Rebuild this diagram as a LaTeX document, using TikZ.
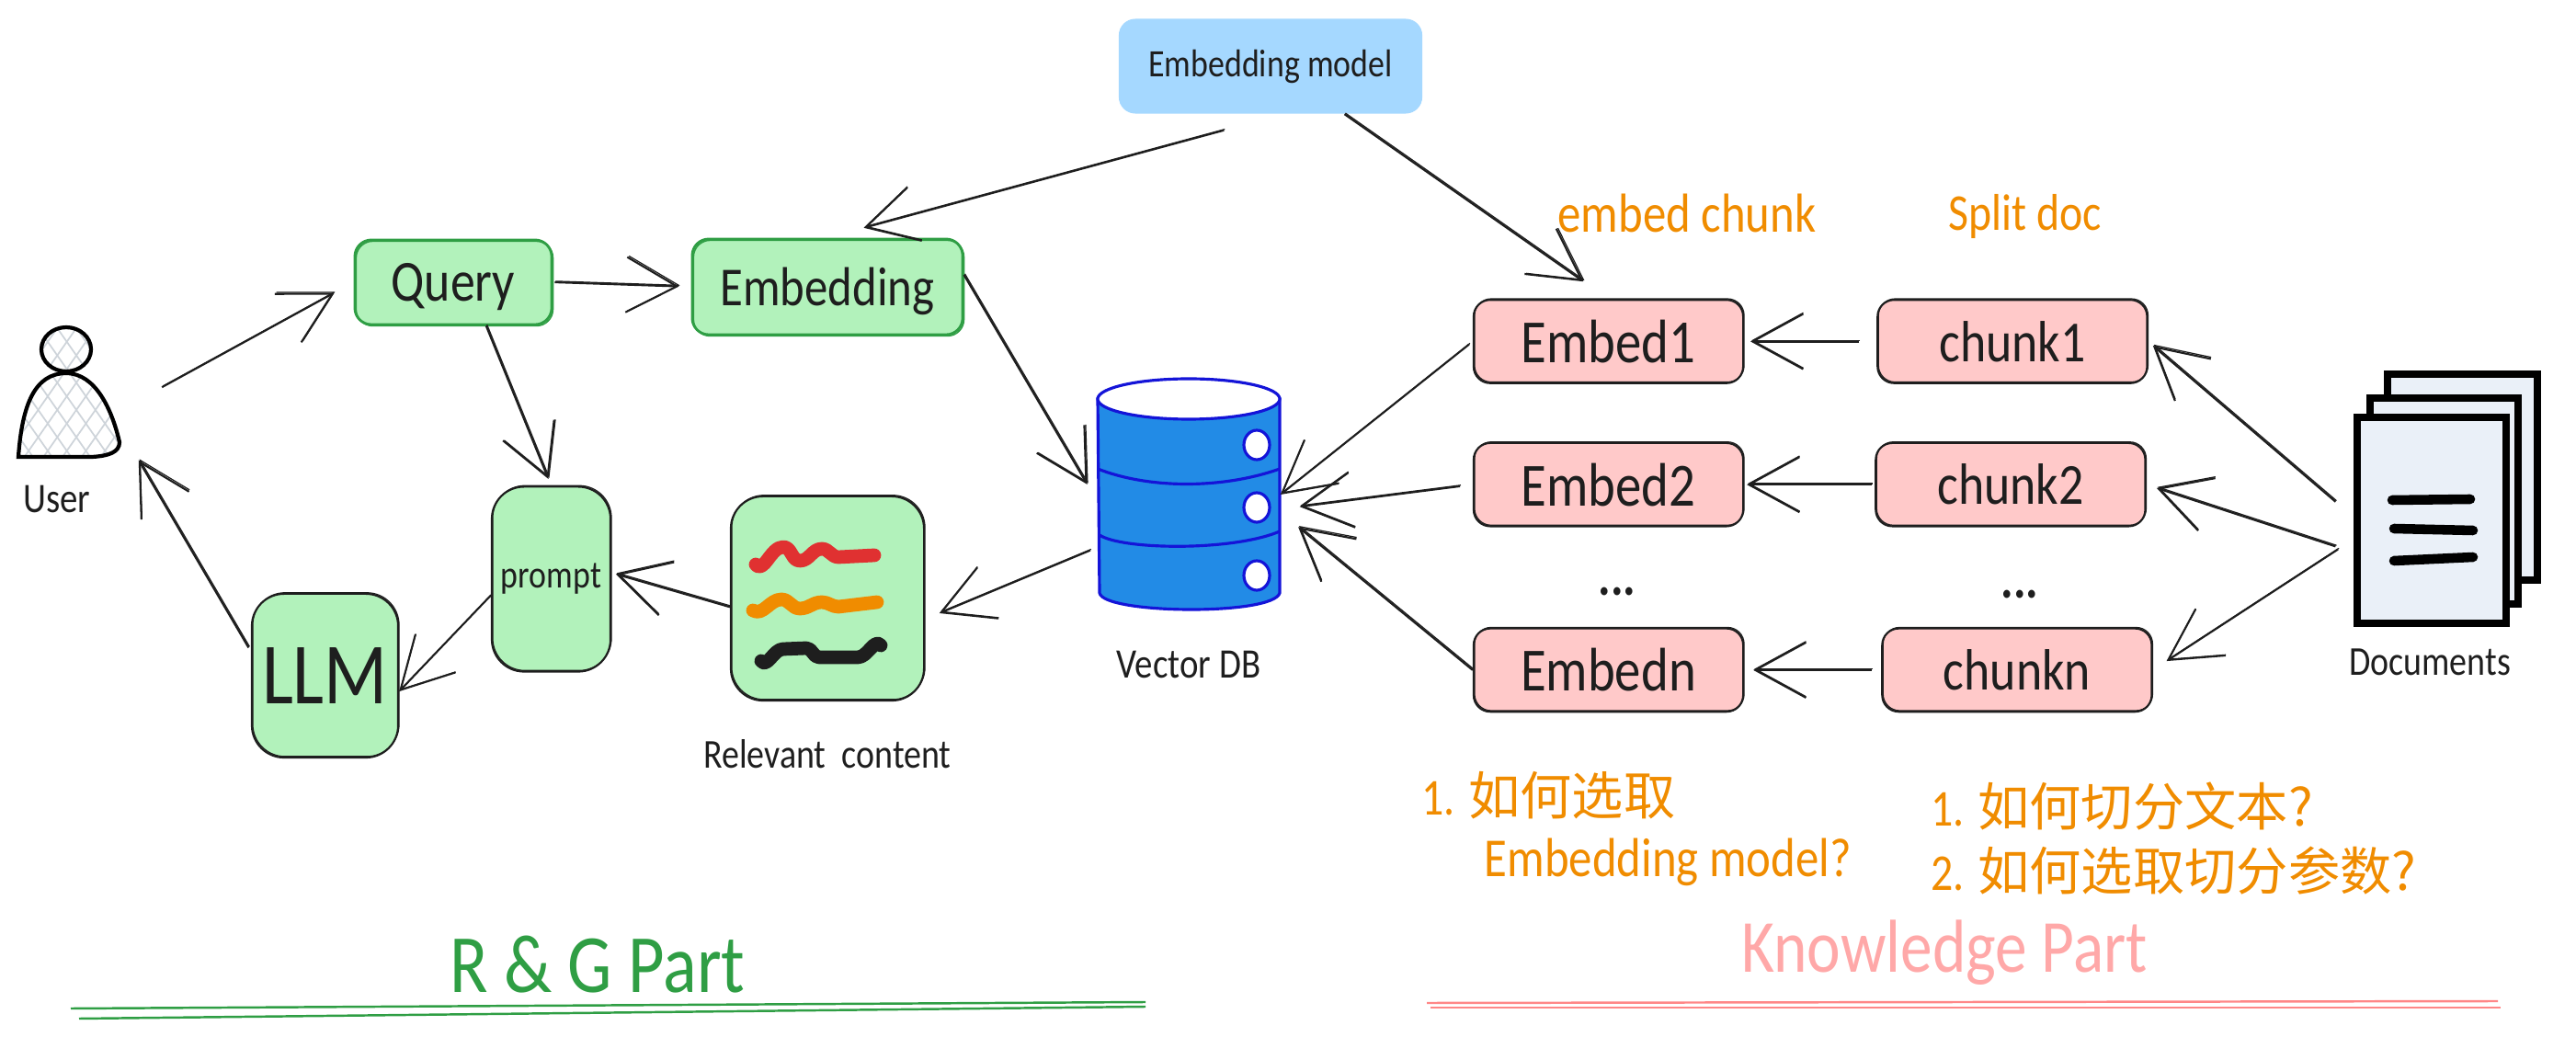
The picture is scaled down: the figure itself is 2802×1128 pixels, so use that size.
\documentclass[tikz,border=0pt]{standalone}
\usepackage{fontspec}
\setmainfont[FakeStretch=0.85]{Carlito}
\newfontfamily\cjk{Noto Sans CJK SC}
\usetikzlibrary{positioning, arrows.meta, patterns.meta}
\newcommand{\skarrow}{-{Straight Barb[length=5.5mm,width=6mm]}}
\newcommand{\txt}[1]{\fontsize{#1}{#1}\selectfont}
\definecolor{greenfill}{HTML}{B2F2BB}
\definecolor{greenline}{HTML}{2F9E44}
\definecolor{bluefill}{HTML}{A5D8FF}
\definecolor{pinkfill}{HTML}{FFC9C9}
\definecolor{pinkline}{HTML}{FF8787}
\definecolor{pinktext}{HTML}{FFA8A8}
\definecolor{notetext}{HTML}{F08C00}
\definecolor{redmark}{HTML}{E03131}
\definecolor{dbfill}{HTML}{228BE6}
\definecolor{dbline}{HTML}{1414D8}
\definecolor{docfill}{HTML}{EAF0F8}
\definecolor{hatchline}{HTML}{CED4DA}
\definecolor{inkline}{HTML}{1E1E1E}
\tikzset{
    inkdraw/.style={draw=inkline, line width=.6pt, postaction={draw=inkline, line width=.35pt, transform canvas={shift={(.1mm,.12mm)}}}},
    skline/.style={\skarrow, inkdraw},
    softbox/.style={shape=rectangle, rounded corners=1.8mm, inner sep=0pt, text=inkline},
    greenbox/.style={softbox, fill=greenfill, draw=greenline, line width=.8pt, text depth=0pt, postaction={draw=greenline, line width=.4pt, transform canvas={shift={(.15mm,-.15mm)}}}},
    tallbox/.style={softbox, fill=greenfill, inkdraw, rounded corners=3.5mm},
    pinkbox/.style={softbox, fill=pinkfill, inkdraw, minimum width=2.93cm, minimum height=.905cm, font=\txt{19}},
    chunkbox/.style={pinkbox, font=\txt{18}},
    label/.style={inner sep=0pt, text=inkline, font=\txt{12.7}},
    note/.style={inner sep=0pt, text=notetext, font=\txt{17}},
    blank/.style={shape=rectangle, inner sep=0pt},
    scribble/.style={line width=4.2pt, line cap=round, line join=round},
    page/.style={draw=black, fill=docfill, line width=2.4pt},
    pageline/.style={draw=black, line width=3pt, line cap=round},
    dbshape/.style={draw=dbline, line width=.9pt},
    rule/.style={line width=.7pt}
}
\begin{document}
\begin{tikzpicture}[x=0.01cm, y=-0.01cm]
    \useasboundingbox (0,0) rectangle (2802,1128);
    \node[softbox, fill=bluefill, minimum width=3.3cm, minimum height=1.03cm, font=\txt{12}] (model) at (1382,72) {Embedding model};
    \node[greenbox, minimum width=2.14cm, minimum height=.92cm, font=\txt{18}] (query) at (493,307) {Query};
    \node[greenbox, minimum width=2.94cm, minimum height=1.04cm, font=\txt{17}] (embedding) at (900,312) {Embedding};
    \node[tallbox, minimum width=1.29cm, minimum height=2.01cm, font=\txt{12}] (prompt) at (599.5,630) {prompt};
    \node[tallbox, minimum width=1.59cm, minimum height=1.78cm, font=\txt{27}] (llm) at (353.5,735) {LLM};
    \node[tallbox, minimum width=2.1cm, minimum height=2.22cm] (relevant) at (900,651) {};
    \node[label, below=.41cm of relevant] (relevantlabel) {Relevant\ \ content};
    \node[blank, minimum width=1.34cm, minimum height=1.44cm] (user) at (83,428) {};
    \node[label, font=\txt{13}] (userlabel) at (62,543) {User};
    \node[blank, minimum width=1.98cm, minimum height=2.5cm] (vdb) at (1293,538) {};
    \node[label, font=\txt{13}, below=.44cm of vdb] (vdblabel) {Vector DB};
    \node[pinkbox] (embedone) at (1749.5,371.5) {Embed1};
    \node[pinkbox, below=.63cm of embedone] (embedtwo) {Embed2};
    \node[pinkbox, below=1.09cm of embedtwo] (embedn) {Embedn};
    \node[chunkbox, right=1.44cm of embedone] (chunkone) {chunk1};
    \node[chunkbox, right=1.42cm of embedtwo] (chunktwo) {chunk2};
    \node[chunkbox, right=1.49cm of embedn] (chunkn) {chunkn};
    \node[label, font=\bfseries\txt{17}] (dotsembed) at (1759,644) {...};
    \node[label, font=\bfseries\txt{17}] (dotschunk) at (2197,647) {...};
    \node[blank, minimum width=1.96cm, minimum height=2.71cm] (docs) at (2662,542.5) {};
    \node[label] (docslabel) at (2643,720) {Documents};
    \node[note] (embedchunk) at (1835,232) {embed chunk};
    \node[note, font=\txt{16}] (splitdoc) at (2203,236) {Split doc};
    \node[note, anchor=west, font=\txt{16}] (noteone) at (1546,865) {1. {\cjk 如何选取}};
    \node[note, anchor=west] (notetwo) at (1614,938) {Embedding model?};
    \node[note, anchor=west, font=\txt{16}] (notethree) at (2100,877) {1. {\cjk 如何切分文本?}};
    \node[note, anchor=west, font=\txt{16}] (notefour) at (2100,947) {2. {\cjk 如何选取切分参数?}};
    \node[inner sep=0pt, text=greenline, font=\txt{25.6}] (ragpart) at (650,1049) {R \& G Part};
    \node[inner sep=0pt, text=pinktext, font=\txt{23.2}] (knowpart) at (2115,1036) {Knowledge Part};
    \draw[rule, draw=greenline] (77,1097) -- (1246,1090);
    \draw[rule, draw=greenline] (86,1108) -- (1246,1095);
    \draw[rule, draw=pinkline] (1552,1091) -- (2717,1089);
    \draw[rule, draw=pinkline] (1556,1096) -- (2720,1096);
    % person
    \draw[pattern={Lines[angle=55,distance=1.7mm,line width=.5pt]}, pattern color=hatchline, preaction={pattern={Lines[angle=-55,distance=1.7mm,line width=.5pt]}, pattern color=hatchline}] (72,380) ellipse [x radius=27, y radius=24];
    \draw[line width=1.2pt, pattern={Lines[angle=55,distance=1.7mm,line width=.5pt]}, pattern color=hatchline, preaction={pattern={Lines[angle=-55,distance=1.7mm,line width=.5pt]}, pattern color=hatchline}] (20,497) .. controls (24,440) and (38,406) .. (72,406) .. controls (104,406) and (122,446) .. (130,481) .. controls (130,492) and (118,496) .. (100,497) -- cycle;
    \draw[line width=1.2pt] (72,380) ellipse [x radius=27, y radius=24];
    % vector db
    \draw[dbshape, fill=dbfill] (1194,434) -- (1196,645) .. controls (1200,668) and (1385,670) .. (1392,645) -- (1392,434) -- cycle;
    \draw[dbshape, fill=white] (1293,434) ellipse [x radius=99, y radius=22];
    \draw[dbshape] (1194,510) .. controls (1250,532) and (1330,532) .. (1392,510);
    \draw[dbshape] (1196,582) .. controls (1220,598) and (1340,600) .. (1392,578);
    \foreach \dy in {484,552,626}
        \draw[dbshape, fill=white] (1367,\dy) ellipse [x radius=14, y radius=16];
    % scribbles
    \draw[scribble, draw=redmark] (822,614) to [out=-50, in=180] (852,595) to [out=0, in=180] (870,610) to [out=0, in=180] (894,597) to [out=0, in=180] (912,606) -- (951,604);
    \draw[scribble, draw=notetext] (819,664) to [out=-30, in=180] (850,652) to [out=0, in=180] (870,662) to [out=0, in=180] (894,655) to [out=0, in=180] (912,660) -- (954,655);
    \draw[scribble, draw=inkline] (828,719) to [out=-50, in=180] (852,706) -- (877,705) to [out=0, in=180] (891,715) -- (933,715) to [out=0, in=130] (958,702);
    % documents
    \draw[page] (2597,407) rectangle (2760,631);
    \draw[page] (2578,433) rectangle (2739,657);
    \draw[page] (2564,454) rectangle (2726,678);
    \draw[pageline] (2602,544) -- (2687,543);
    \draw[pageline] (2604,575) -- (2690,577);
    \draw[pageline] (2604,610) -- (2690,606);
    % arrows
    \draw[skline, shorten <=2.9mm, shorten >=2.4mm] (user.-6) -- (query.west);
    \draw[skline, shorten <=.2mm, shorten >=1.3mm] (query.east) -- (embedding.west);
    \draw[skline, shorten >=.8mm] (query.-53) -- (prompt.north);
    \draw[skline, shorten >=2.1mm] (embedding.5) -- (vdb.184);
    \draw[skline, shorten <=.8mm, shorten >=1.7mm] (vdb.210) -- (relevant.-12);
    \draw[skline, shorten >=.5mm] (relevant.185) -- (prompt.6);
    \draw[skline] (prompt.195) -- (llm.-12);
    \draw[skline, shorten <=.5mm] (llm.162) -- (user.-47);
    \draw[skline, shorten <=6.7mm, shorten >=4.1mm] (model.-75) -- (embedding.north);
    \draw[skline, shorten >=3.3mm] (model.-33) -- (embedone.north);
    \draw[skline, shorten <=1.9mm, shorten >=.7mm] (chunkone.west) -- (embedone.east);
    \draw[skline, shorten <=.3mm, shorten >=.3mm] (chunktwo.west) -- (embedtwo.east);
    \draw[skline, shorten <=1mm, shorten >=1mm] (chunkn.west) -- (embedn.east);
    \draw[skline, shorten <=.5mm] (embedone.west) -- (vdb.east);
    \draw[skline, shorten <=1.4mm, shorten >=2.1mm] (embedtwo.west) -- (vdb.-9);
    \draw[skline, shorten >=2.5mm] (embedn.west) -- (vdb.-11);
    \draw[skline, shorten <=3mm, shorten >=.7mm] (docs.193) -- (chunkone.east);
    \draw[skline, shorten <=2.4mm, shorten >=1.2mm] (docs.211) -- (chunktwo.east);
    \draw[skline, shorten <=2.4mm, shorten >=1.8mm] (docs.203) -- (chunkn.east);
\end{tikzpicture}
\end{document}
